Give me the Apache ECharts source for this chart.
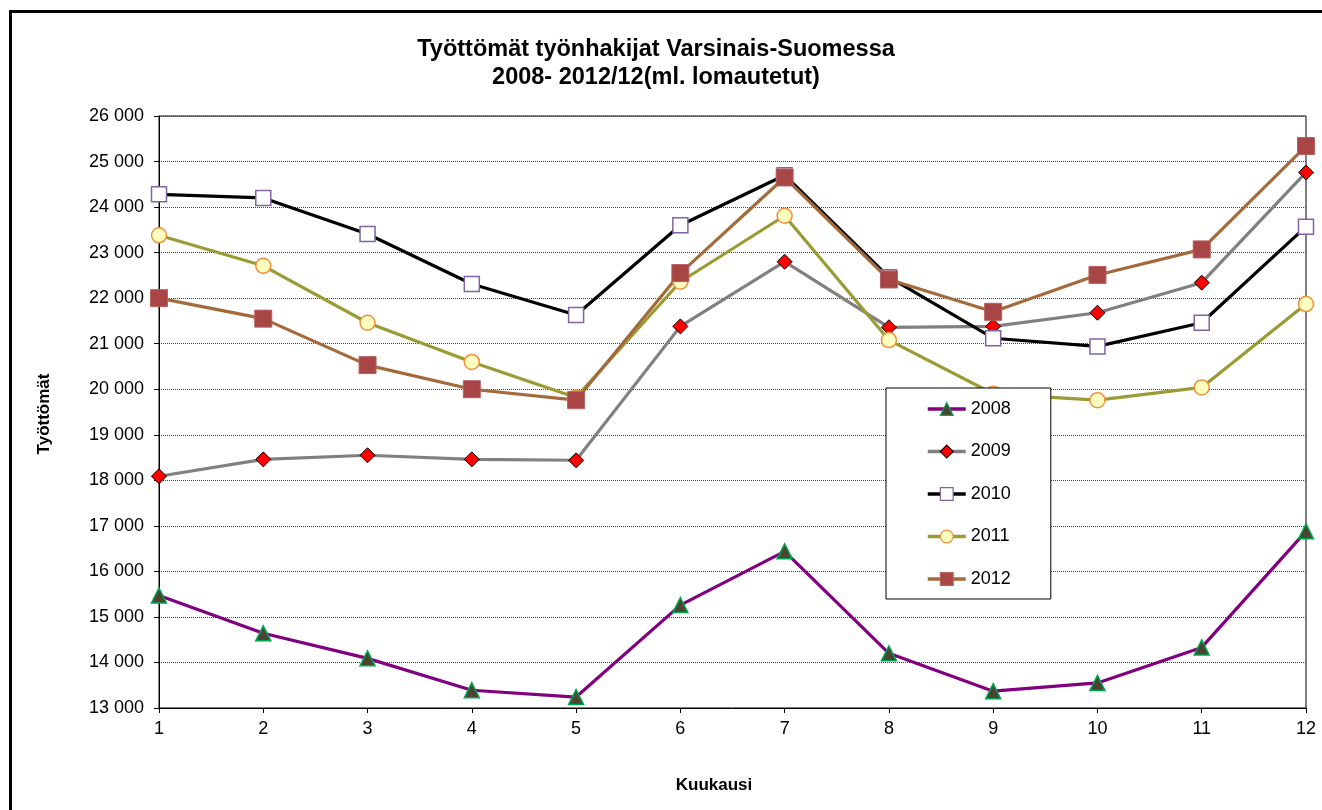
<!DOCTYPE html>
<html>
<head>
<meta charset="utf-8">
<script src="https://cdn.jsdelivr.net/npm/echarts@6/dist/echarts.min.js"></script>
<style>
html,body{margin:0;padding:0;background:#fff;}
#chart{width:1322px;height:810px;}
</style>
</head>
<body>
<div id="chart"></div>
<script>
var months = ['1','2','3','4','5','6','7','8','9','10','11','12'];
var yTicks = [13000, 26000, 1000]; // min, max, step
var s2008 = [15470, 14640, 14090, 13390, 13240, 15260, 16440, 14200, 13370, 13550, 14330, 16880];
var s2009 = [18090, 18460, 18550, 18460, 18440, 21380, 22800, 21360, 21380, 21680, 22340, 24760];
var s2010 = [24280, 24200, 23410, 22310, 21630, 23600, 24700, 22460, 21120, 20940, 21460, 23570];
var s2011 = [23380, 22710, 21460, 20600, 19820, 22360, 23810, 21080, 19900, 19760, 20040, 21870];
var s2012 = [22000, 21550, 20530, 20000, 19760, 22550, 24650, 22410, 21700, 22510, 23070, 25340];

var FONT = '"Liberation Sans", Arial, sans-serif';

var styles = {
  '2008': {line:'#800080', symbol:'triangle', size:15, fill:'#4a4430', border:'#00a550', bw:1.5},
  '2009': {line:'#808080', symbol:'diamond', size:15, fill:'#ff0000', border:'#000000', bw:1},
  '2010': {line:'#000000', symbol:'rect', size:15, fill:'#ffffff', border:'#8064a2', bw:1.5},
  '2011': {line:'#9b9b35', symbol:'circle', size:15, fill:'#ffffc0', border:'#f0903c', bw:1.5},
  '2012': {line:'#a36b3b', symbol:'rect', size:17, fill:'#a84545', border:'#b86060', bw:1}
};
var seriesData = {'2008': s2008, '2009': s2009, '2010': s2010, '2011': s2011, '2012': s2012};
var names = ['2008','2009','2010','2011','2012'];

function fmt(v){ return String(v).replace(/\B(?=(\d{3})+(?!\d))/g, ' '); }

var series = names.map(function(n){
  var st = styles[n];
  return {
    name: n, type: 'line', data: seriesData[n],
    symbol: st.symbol, symbolSize: st.size, clip: false,
    lineStyle: {color: st.line, width: 3.2},
    itemStyle: {color: st.fill, borderColor: st.border, borderWidth: st.bw, opacity: 1},
    emphasis: {disabled: true},
    animation: false
  };
});

var chart = echarts.init(document.getElementById('chart'), null, {renderer: 'canvas'});
chart.setOption({
  backgroundColor: '#ffffff',
  animation: false,
  title: {
    text: 'Työttömät työnhakijat Varsinais-Suomessa\n2008- 2012/12(ml. lomautetut)',
    left: 651, top: 31, textAlign: 'center',
    textStyle: {fontFamily: FONT, fontSize: 23.5, fontWeight: 'bold', color: '#000', lineHeight: 28}
  },
  grid: {left: 159, top: 116, width: 1147, height: 592, show: true, borderColor: '#000', borderWidth: 1, backgroundColor: 'transparent', containLabel: false},
  xAxis: {
    type: 'category', data: months, boundaryGap: false,
    axisLine: {lineStyle: {color: '#000', width: 1}},
    axisTick: {show: true, length: 5, inside: false, lineStyle: {color: '#000'}},
    axisLabel: {fontFamily: FONT, fontSize: 18, color: '#000', margin: 12},
    splitLine: {show: false}
  },
  yAxis: {
    type: 'value', min: yTicks[0], max: yTicks[1], interval: yTicks[2],
    axisLine: {show: true, lineStyle: {color: '#000', width: 1}},
    axisTick: {show: true, length: 5, lineStyle: {color: '#000'}},
    axisLabel: {fontFamily: FONT, fontSize: 18, color: '#000', margin: 15, formatter: fmt},
    splitLine: {show: true, lineStyle: {color: '#444', width: 1, type: 'dotted'}}
  },
  legend: {
    orient: 'vertical', left: 886, top: 388,
    padding: [12, 40, 11, 40],
    itemWidth: 38, itemHeight: 16, itemGap: 24.5,
    backgroundColor: '#fff', borderColor: '#000', borderWidth: 1,
    textStyle: {fontFamily: FONT, fontSize: 18, color: '#000', lineHeight: 18},
    data: names.map(function(n){
      var st = styles[n];
      return {name: n, itemStyle: {color: st.fill, borderColor: st.border, borderWidth: 1.2}, lineStyle: {color: st.line, width: 3.5}};
    })
  },
  graphic: [
    {type: 'rect', shape: {x: 10.5, y: 11.5, width: 1400, height: 900}, style: {fill: 'none', stroke: '#000', lineWidth: 3}, silent: true, z: 100},
    {type: 'text', x: 44, y: 414, rotation: Math.PI/2, style: {text: 'Työttömät', fontFamily: FONT, fontSize: 17, fontWeight: 'bold', fill: '#000', align: 'center', verticalAlign: 'middle'}},
    {type: 'text', x: 714, y: 785, style: {text: 'Kuukausi', fontFamily: FONT, fontSize: 17, fontWeight: 'bold', fill: '#000', align: 'center', verticalAlign: 'middle'}}
  ],
  series: series
});
</script>
</body>
</html>
